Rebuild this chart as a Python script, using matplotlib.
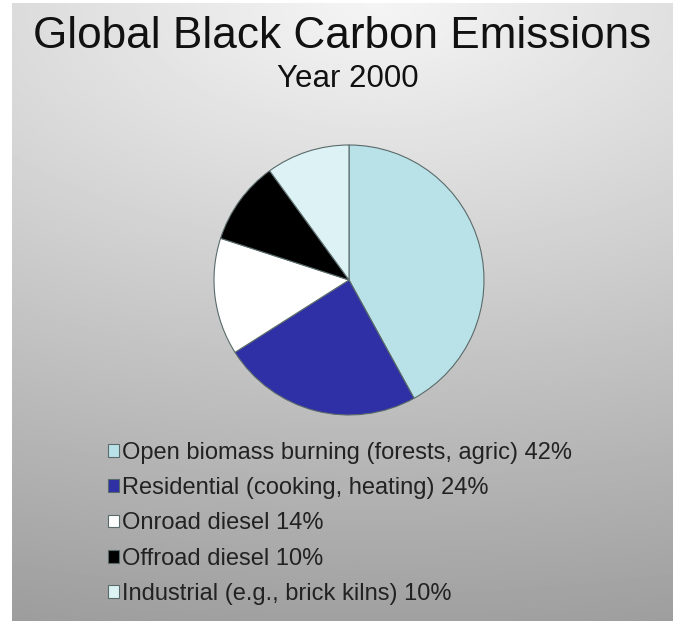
import numpy as np
import matplotlib.pyplot as plt

plt.rcParams['font.family'] = ['Liberation Sans', 'DejaVu Sans']

labels = ['Open biomass burning (forests, agric)', 'Residential (cooking, heating)',
          'Onroad diesel', 'Offroad diesel', 'Industrial (e.g., brick kilns)']
shares = [42, 24, 14, 10, 10]
colors = ['#b9e2e8', '#2f2fa6', '#ffffff', '#000000', '#dcf2f4']

W, H = 673, 621
fig = plt.figure(figsize=(W / 100, H / 100), dpi=100)
fig.patch.set_facecolor('white')

# background gradient (light at top centre, grey towards the bottom)
bg = fig.add_axes([12 / W, 0, 1 - 12 / W, 1 - 3 / H])
yy, xx = np.mgrid[0:1:300j, 0:1:300j]
shade = 0.96 - 0.33 * np.sqrt(((xx - 0.55) * 0.55) ** 2 + yy ** 2)
bg.imshow(shade, cmap='gray', vmin=0, vmax=1, aspect='auto', extent=(0, 1, 1, 0))
bg.axis('off')

fig.text(342 / W, 1 - 37 / H, 'Global Black Carbon Emissions', fontsize=31.8,
         ha='center', va='center', color='#111111')
fig.text(348 / W, 1 - 79 / H, 'Year 2000', fontsize=22.5,
         ha='center', va='center', color='#111111')

r = 135
cx, cy = 349, 280
ax = fig.add_axes([(cx - r) / W, 1 - (cy + r) / H, 2 * r / W, 2 * r / H])
wedges, _ = ax.pie(shares, colors=colors, startangle=90, counterclock=False,
                   wedgeprops=dict(edgecolor='#5a6a6a', linewidth=0.8))
for w in wedges:
    w.set_clip_on(False)
ax.set_xlim(-1, 1)
ax.set_ylim(-1, 1)

leg_labels = [f'{n} {p}%' for n, p in zip(labels, shares)]
leg = fig.legend(wedges, leg_labels, loc='upper left',
                 bbox_to_anchor=(108 / W, 1 - 442 / H), frameon=False,
                 fontsize=17, handlelength=0.45, handleheight=0.45,
                 handletextpad=0.15, labelspacing=0.56, borderpad=0, borderaxespad=0)
for t in leg.get_texts():
    t.set_color('#222222')

fig.savefig('out.png', dpi=100)
